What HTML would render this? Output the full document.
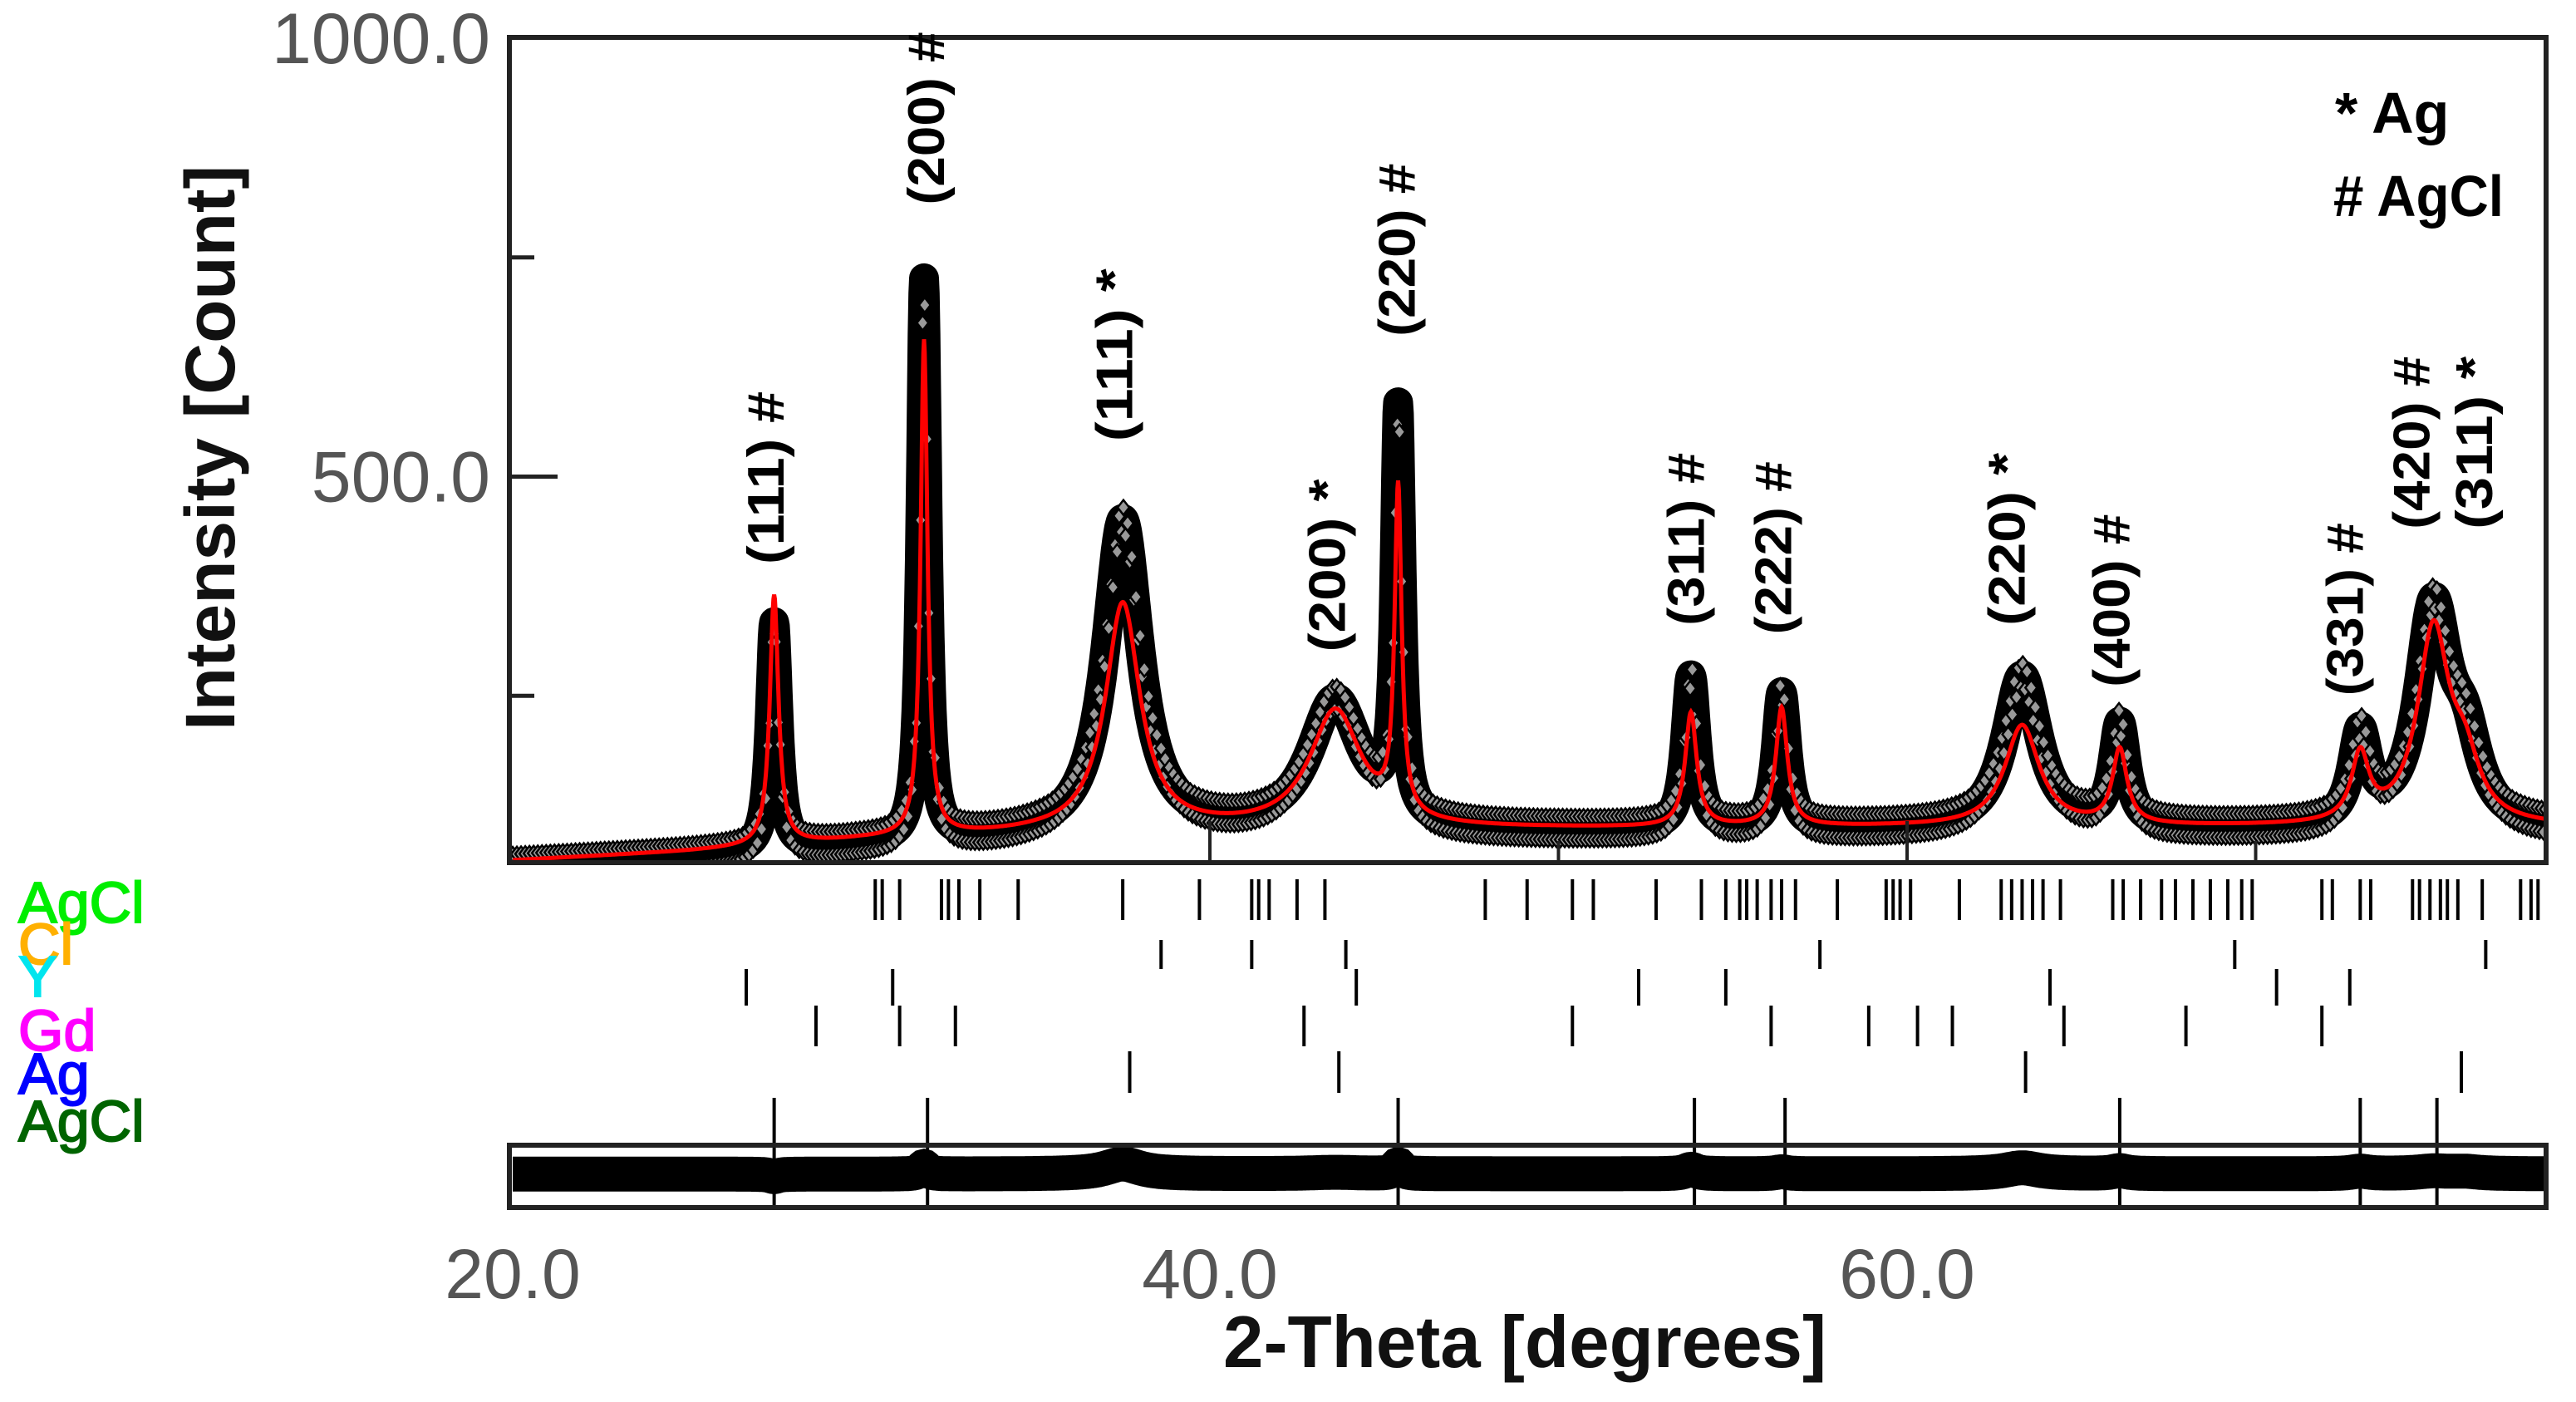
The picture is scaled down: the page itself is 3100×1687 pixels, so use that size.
<!DOCTYPE html>
<html><head><meta charset="utf-8"><style>
html,body{margin:0;padding:0;background:#fff;}
svg{display:block;}
text{font-family:"Liberation Sans",sans-serif;}
</style></head><body>
<svg id="chart" width="3100" height="1687" viewBox="0 0 3100 1687" xmlns="http://www.w3.org/2000/svg">
<rect x="0" y="0" width="3100" height="1687" fill="#fff"/>
<defs><clipPath id="mainclip"><rect x="613" y="45" width="2451" height="993"/></clipPath><clipPath id="diffclip"><rect x="613" y="1378" width="2451" height="75"/></clipPath></defs>
<g id="plot" clip-path="url(#mainclip)"></g>
<rect x="613" y="45" width="2451" height="993" fill="none" stroke="#222" stroke-width="6"/>
<g id="ticks"></g>
<g id="diff" clip-path="url(#diffclip)"></g>
<rect x="613" y="1378" width="2451" height="75" fill="none" stroke="#222" stroke-width="6"/>
<g id="axes"></g>
<text x="253" y="539" transform="rotate(-90 253 539)" text-anchor="middle" dominant-baseline="central" font-weight="bold" font-size="84" textLength="680" lengthAdjust="spacingAndGlyphs" fill="#111">Intensity [Count]</text>
<text x="1835" y="1645" text-anchor="middle" font-weight="bold" font-size="88" textLength="726" lengthAdjust="spacingAndGlyphs" fill="#111">2-Theta [degrees]</text>
<text x="2810" y="160" font-weight="bold" font-size="70" fill="#000">* Ag</text>
<text x="2808" y="260" font-weight="bold" font-size="70" textLength="205" lengthAdjust="spacingAndGlyphs" fill="#000"># AgCl</text>
<g id="annots"></g>
<g font-size="70" stroke-width="2">
<text x="22" y="1110" fill="#00ee00" stroke="#00ee00">AgCl</text>
<text x="22" y="1160" fill="#ffb000" stroke="#ffb000">Cl</text>
<text x="22" y="1199" fill="#00e5ee" stroke="#00e5ee">Y</text>
<text x="22" y="1264" fill="#ff00ff" stroke="#ff00ff">Gd</text>
<text x="22" y="1316" fill="#0000ff" stroke="#0000ff">Ag</text>
<text x="22" y="1373" fill="#006400" stroke="#006400">AgCl</text>
</g>
</svg>
<script>
const peakPos=[27.5,31.8,37.5,43.6,45.4,53.8,56.4,63.3,66.1,73.0,75.1,76.0];
const calcHeights=[285,565,260,135,370,130,135,115,85,75,220,60];
const obsHeights=[260,640,360,150,460,175,155,175,115,100,245,80];
const peakWidths=[0.15,0.12,0.6,0.9,0.12,0.2,0.2,0.6,0.25,0.3,0.55,0.5];
const bgDeg=[20,25,30,35,40,50,60,70,78.4];
const bgVal=[62,72,85,92,95,98,100,100,100];
const obsBgVal=[55,65,78,86,90,94,96,96,96];
const yTicks=[250,500,750,1000];
const yTickLabels=["","500.0","","1000.0"];
const xTicks=[40,50,60,70];
const xTickLabels=["20.0","40.0","60.0"];
const xLabelVals=[20,40,60];
const rowAgCl1=[30.4,30.6,31.1,32.3,32.5,32.8,33.4,34.5,37.5,39.7,41.2,41.4,41.7,42.5,43.3,47.9,49.1,50.4,51.0,52.8,54.1,54.8,55.2,55.4,55.7,56.1,56.4,56.8,58.0,59.4,59.6,59.8,60.1,61.5,62.7,63.0,63.3,63.6,63.9,64.4,65.9,66.2,66.7,67.3,67.7,68.2,68.7,69.2,69.6,69.9,71.9,72.2,73.0,73.3,74.5,74.7,75.0,75.3,75.5,75.8,76.5,77.6,77.9,78.1];
const rowCl=[38.6,41.2,43.9,57.5,69.4,76.6];
const rowY=[26.7,30.9,44.2,52.3,54.8,64.1,70.6,72.7];
const rowGd=[28.7,31.1,32.7,42.7,50.4,56.1,58.9,60.3,61.3,64.5,68.0,71.9];
const rowAg=[37.7,43.7,63.4,75.9];
const rowAgCl2=[27.5,31.9,45.4,53.9,56.5,66.1,73.0,75.2];
const annotText=["(111) #","(200) #","(111) *","(200) *","(220) #","(311) #","(222) #","(220) *","(400) #","(331) #","(420) #","(311) *"];
const annotDeg=[27.3,31.9,37.3,43.4,45.4,53.7,56.2,62.9,65.9,72.6,74.5,76.3];
const annotVal=[400,810,540,300,660,330,320,330,260,250,440,440];

const NS="http://www.w3.org/2000/svg";
const X=d=>617+(d-20)*41.95;
const Y=v=>1101-v*1.055;
function mk(tag,attrs,parent){const e=document.createElementNS(NS,tag);for(const k in attrs)e.setAttribute(k,attrs[k]);parent.appendChild(e);return e;}
function interp(d,vals){for(let i=0;i<bgDeg.length-1;i++){if(d<=bgDeg[i+1]){const t=(d-bgDeg[i])/(bgDeg[i+1]-bgDeg[i]);return vals[i]+t*(vals[i+1]-vals[i]);}}return vals[vals.length-1];}
function prof(d,h,b){let s=interp(d,b);for(let i=0;i<peakPos.length;i++){const u=(d-peakPos[i])/peakWidths[i];s+=h[i]/(1+u*u);}return s;}
const plot=document.getElementById('plot');
const degs=[];for(let d=20;d<=78.33;d+=0.02)degs.push(d);
let op=degs.map(d=>X(d).toFixed(1)+','+Math.max(Y(prof(d,obsHeights,obsBgVal)),50).toFixed(1)).join(' ');
const ob=mk('polyline',{points:op,fill:'none',stroke:'#000','stroke-width':36,'stroke-linejoin':'round'},plot);


for(let i=0;i<degs.length;i+=3){const d=degs[i];const x=X(d),y=Y(prof(d,obsHeights,obsBgVal))+((i%6)?14:-14);
 const m=mk('path',{d:`M${x-7},${y}L${x},${y-9}L${x+7},${y}L${x},${y+9}Z`,fill:'#999',stroke:'#000','stroke-width':2.5},plot);
 
 }
let cp=degs.map(d=>X(d).toFixed(1)+','+Y(prof(d,calcHeights,bgVal)).toFixed(1)).join(' ');
const cl=mk('polyline',{points:cp,fill:'none',stroke:'#ff0000','stroke-width':5},plot);


const axes=document.getElementById('axes');
yTicks.forEach((v,i)=>{const y=Y(v);const len=(v===500)?58:(v===1000?0:30);
 if(len){const t=mk('line',{x1:613,x2:613+len,y1:y,y2:y,stroke:'#222','stroke-width':5},axes);
 
 }
 if(yTickLabels[i]){const l=mk('text',{x:590,y:y+30,'text-anchor':'end','font-size':86,fill:'#555'},axes);l.textContent=yTickLabels[i];
 
 }});
xTicks.forEach(v=>{const x=X(v);const len=(v%20===0)?50:26;
 const t=mk('line',{x1:x,x2:x,y1:1038,y2:1038-len,stroke:'#222','stroke-width':4},axes);
 
 });
xLabelVals.forEach((v,i)=>{const l=mk('text',{x:X(v),y:1562,'text-anchor':'middle','font-size':84,fill:'#555'},axes);l.textContent=xTickLabels[i];
 
 });
const tg=document.getElementById('ticks');
const rows=[[rowAgCl1,1058,1107,'agcl-1'],[rowCl,1131,1166,'cl'],[rowY,1166,1210,'y'],[rowGd,1210,1259,'gd'],[rowAg,1265,1315,'ag'],[rowAgCl2,1321,1378,'agcl-2']];
rows.forEach(r=>{r[0].forEach(d=>{const t=mk('line',{x1:X(d),x2:X(d),y1:r[1],y2:r[2],stroke:'#000','stroke-width':4},tg);
 
 });});
const dg=document.getElementById('diff');
let dp=degs.map(d=>{let v=(prof(d,obsHeights,obsBgVal)-prof(d,calcHeights,bgVal))*0.12;v=Math.max(-20,Math.min(20,v));return X(d).toFixed(1)+','+(1412-v).toFixed(1);}).join(' ');
const dl=mk('polyline',{points:dp,fill:'none',stroke:'#000','stroke-width':42},dg);


rowAgCl2.forEach(d=>{const t=mk('line',{x1:X(d),x2:X(d),y1:1378,y2:1453,stroke:'#000','stroke-width':4},dg);
 
 });
const ag=document.getElementById('annots');
annotText.forEach((s,i)=>{const x=X(annotDeg[i])+20,y=Y(annotVal[i]);
 const t=mk('text',{x:x,y:y,transform:`rotate(-90 ${x} ${y})`,'font-size':62,'font-weight':'bold',textLength:208,lengthAdjust:'spacingAndGlyphs',fill:'#000'},ag);t.textContent=s;
 
 });
</script>
</body></html>
